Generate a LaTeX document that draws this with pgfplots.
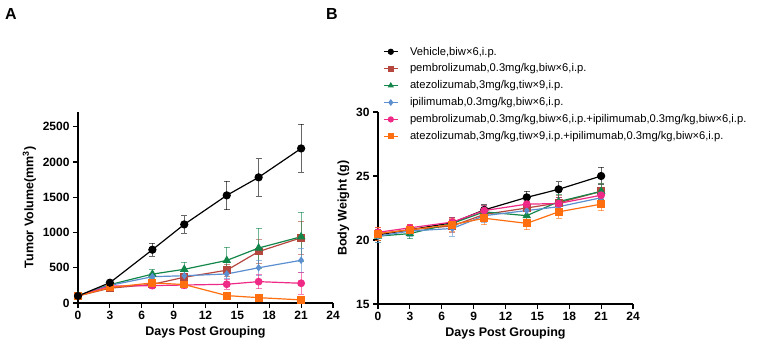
\documentclass[border=0pt]{standalone}
\usepackage{fontspec}
\setmainfont{Liberation Sans}
\usepackage{pgfplots}
\pgfplotsset{compat=1.18}
\definecolor{cVeh}{HTML}{000000}
\definecolor{cPem}{HTML}{B5473F}
\definecolor{cAte}{HTML}{13864A}
\definecolor{cIpi}{HTML}{5B8FD0}
\definecolor{cPI}{HTML}{EF2A86}
\definecolor{cAI}{HTML}{FF6F10}
\pgfplotsset{
  base/.style={scale only axis, width=255pt, xmin=0, xmax=24, xtick={0,3,...,24},
    axis lines=left, axis line style={-, line width=1.3pt},
    tick align=outside, major tick length=5pt, tick style={line width=1.2pt, black},
    ticklabel style={font=\fontsize{12}{12}\selectfont\bfseries},
    /pgf/number format/assume math mode=true, /pgf/number format/1000 sep={},
    scaled y ticks=false,
    label style={font=\fontsize{12.5}{13}\selectfont\bfseries},
    xlabel={Days Post Grouping}, clip=false},
  ser/.style={color=#1, line width=1.2pt,
    error bars/y dir=both, error bars/y explicit,
    error bars/error bar style={line width=0.8pt, color=#1, opacity=0.6},
    error bars/error mark options={rotate=90, mark size=3pt, line width=0.8pt, color=#1, opacity=0.6}},
}
\begin{document}
\begin{tikzpicture}[x=1pt,y=1pt]
\path[use as bounding box] (0,0) rectangle (772,354);
\node[anchor=north west, inner sep=0pt, font=\fontsize{16}{16}\selectfont\bfseries] at (5,346) {A};
\node[anchor=north west, inner sep=0pt, font=\fontsize{16}{16}\selectfont\bfseries] at (326,346) {B};
\begin{axis}[base, at={(78pt,51pt)}, anchor=south west, height=191pt,
  ymin=0, ymax=2710, ytick={0,500,...,2500},
  ylabel={Tumor Volume(mm$^{\mathbf{3}}$)}]
\addplot[ser=cPem, mark=square*, mark size=3.3pt] table[x=d,y=v,y error=e]{
d v e
0 100 10
3 210 20
7 265 40
10 365 60
14 465 85
17 730 170
21 925 235
};
\addplot[ser=cAte, mark=triangle*, mark size=3.8pt] table[x=d,y=v,y error=e]{
d v e
0 100 10
3 260 25
7 410 60
10 478 105
14 604 190
17 780 283
21 940 345
};
\addplot[ser=cIpi, mark=diamond*, mark size=2.8pt] table[x=d,y=v,y error=e]{
d v e
0 100 10
3 250 25
7 373 40
10 387 60
14 412 70
17 500 110
21 606 175
};
\addplot[ser=cPI, mark=*, mark size=3.3pt] table[x=d,y=v,y error=e]{
d v e
0 100 10
3 240 25
7 247 35
10 255 50
14 266 70
17 303 100
21 280 152
};
\addplot[ser=cAI, mark=square*, mark size=3.3pt] table[x=d,y=v,y error=e]{
d v e
0 100 10
3 220 20
7 285 30
10 262 40
14 105 25
17 76 20
21 44 15
};
\addplot[ser=cVeh, mark=*, mark size=3.5pt] table[x=d,y=v,y error=e]{
d v e
0 100 10
3 288 20
7 756 95
10 1115 125
14 1527 205
17 1783 265
21 2193 340
};
\end{axis}
\begin{axis}[base, at={(378pt,50pt)}, anchor=south west, height=192pt,
  ymin=15, ymax=30, ytick={15,20,25,30},
  ylabel={Body Weight (g)},
  legend style={at={(0.02,1.345)}, anchor=north west, draw=none, fill=none,
    font=\fontsize{11.2}{11.2}\selectfont, row sep=5.3pt, inner sep=0pt,
    nodes={inner sep=1pt}},
  legend cell align=left,
  legend image code/.code={\draw[mark repeat=2,mark phase=2,line width=1pt,mark size=2.6pt] plot coordinates {(0pt,0pt) (7pt,0pt) (14pt,0pt)}; \path (25pt,0pt);}]
\addlegendimage{color=cVeh, mark=*}
\addlegendentry{Vehicle,biw×6,i.p.}
\addlegendimage{color=cPem, mark=square*}
\addlegendentry{pembrolizumab,0.3mg/kg,biw×6,i.p.}
\addlegendimage{color=cAte, mark=triangle*}
\addlegendentry{atezolizumab,3mg/kg,tiw×9,i.p.}
\addlegendimage{color=cIpi, mark=diamond*}
\addlegendentry{ipilimumab,0.3mg/kg,biw×6,i.p.}
\addlegendimage{color=cPI, mark=*}
\addlegendentry{pembrolizumab,0.3mg/kg,biw×6,i.p.+ipilimumab,0.3mg/kg,biw×6,i.p.}
\addlegendimage{color=cAI, mark=square*}
\addlegendentry{atezolizumab,3mg/kg,tiw×9,i.p.+ipilimumab,0.3mg/kg,biw×6,i.p.}
\addplot[ser=cVeh, mark=*, mark size=3.5pt, forget plot] table[x=d,y=v,y error=e]{
d v e
0 20.4 0.4
3 20.8 0.3
7 21.35 0.4
10 22.35 0.4
14 23.33 0.5
17 23.96 0.6
21 25.0 0.68
};
\addplot[ser=cPem, mark=square*, mark size=3.3pt, forget plot] table[x=d,y=v,y error=e]{
d v e
0 20.5 0.5
3 20.8 0.4
7 21.1 0.5
10 22.0 0.5
14 22.5 0.5
17 22.9 0.6
21 23.8 0.6
};
\addplot[ser=cAte, mark=triangle*, mark size=3.8pt, forget plot] table[x=d,y=v,y error=e]{
d v e
0 20.3 0.5
3 20.5 0.4
7 21.3 0.5
10 22.2 0.5
14 21.9 0.5
17 23.0 0.6
21 23.8 0.6
};
\addplot[ser=cIpi, mark=diamond*, mark size=2.8pt, forget plot] table[x=d,y=v,y error=e]{
d v e
0 20.3 0.5
3 20.7 0.4
7 20.9 0.6
10 21.9 0.5
14 22.3 0.5
17 22.6 0.6
21 23.3 0.6
};
\addplot[ser=cPI, mark=*, mark size=3.3pt, forget plot] table[x=d,y=v,y error=e]{
d v e
0 20.6 0.4
3 20.95 0.3
7 21.4 0.4
10 22.3 0.4
14 22.8 0.5
17 22.85 0.5
21 23.5 0.6
};
\addplot[ser=cAI, mark=square*, mark size=3.3pt, forget plot] table[x=d,y=v,y error=e]{
d v e
0 20.5 0.5
3 20.8 0.4
7 21.2 0.5
10 21.7 0.5
14 21.3 0.5
17 22.2 0.5
21 22.8 0.5
};
\end{axis}
\end{tikzpicture}
\end{document}
